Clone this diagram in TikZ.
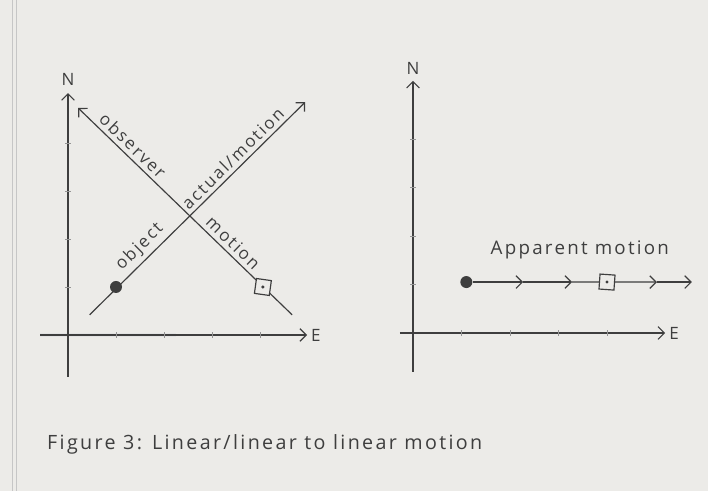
\documentclass[tikz,border=0pt]{standalone}
\usepackage{fontspec}
\setmainfont{Open Sans}[LetterSpace=12]
\usetikzlibrary{arrows.meta,positioning,calc}
\usepackage{xcolor}
\definecolor{paper}{RGB}{236,235,232}
\definecolor{pencil}{RGB}{62,62,62}

\tikzset{
  barb/.style={-{Straight Barb[length=1.9mm,width=3.8mm]}},
  pen/.style={pencil,line width=1pt},
  hand/.style={pencil,font=\fontsize{14.5}{17}\selectfont},
  tickmark/.style={pencil!55,thin},
  dot/.style={circle,fill=pencil,inner sep=0pt,minimum size=3.6mm},
  box/.style={draw=pencil,line width=1pt,fill=paper,minimum size=4.5mm,inner sep=0pt},
}

\begin{document}
\begin{tikzpicture}
\fill[paper] (0,0) rectangle (21.24,14.73);
\useasboundingbox (0,0) rectangle (21.24,14.73);
% page margin of the scan
\draw[gray!45,thin] (0.36,0) -- (0.36,14.73);
\draw[gray!45,thin] (0.48,0) -- (0.48,14.73);
\begin{scope}[shift={(2.04,4.68)},x=1.44cm,y=1.44cm]
  \draw[gray!22,line width=4pt] (-0.58,0) -- (2.25,0);
  \coordinate (lNs) at (0,-0.875);
  \coordinate (lNe) at (0,5.04);
  \coordinate (lEs) at (-0.58,0);
  \coordinate (lEe) at (4.98,0);
  \draw[pen,barb] (lNs) -- (lNe);
  \draw[pen,barb] (lEs) -- (lEe);
  \node[hand,above=3pt of lNe] (lN) {N};
  \node[hand,right=0pt of lEe] (lE) {E};
  \foreach \k in {1,...,4} {
    \draw[tickmark] (\k,-0.06) -- (\k,0.06);
    \draw[tickmark] (-0.06,\k) -- (0.06,\k);
  }
  % the object
  \coordinate (objS) at (0.45,0.42);
  \coordinate (objE) at (4.94,4.85);
  \draw[pen,barb] (objS) --
    node[hand,sloped,above,pos=0.275] (lobj) {object}
    node[hand,sloped,above,pos=0.70] (lact) {actual/motion} (objE);
  \node[dot] (obj) at (1,1) {};
  % the observer
  \coordinate (obsS) at (4.67,0.42);
  \coordinate (obsE) at (0.21,4.73);
  \draw[pen,barb] (obsS) --
    node[hand,sloped,above,pos=0.31] (lmot) {motion}
    node[hand,sloped,above,pos=0.78] (lobs) {observer} (obsE);
  \node[box,rotate=-8] (obs) at (4.06,1.0) {};
  \fill[pencil] (obs.center) circle (1.4pt);
\end{scope}
\begin{scope}[shift={(12.39,4.74)},x=1.455cm,y=1.455cm]
  \coordinate (rNs) at (0,-0.8);
  \coordinate (rNe) at (0,5.2);
  \coordinate (rEs) at (-0.27,0);
  \coordinate (rEe) at (5.2,0);
  \draw[pen,barb] (rNs) -- (rNe);
  \draw[pen,barb] (rEs) -- (rEe);
  \node[hand,above=2pt of rNe] (rN) {N};
  \node[hand,right=0pt of rEe] (rE) {E};
  \foreach \k in {1,...,4} {
    \draw[tickmark] (\k,-0.06) -- (\k,0.06);
    \draw[tickmark] (-0.06,\k) -- (0.06,\k);
  }
  \node[dot] (app) at (1.1,1.05) {};
  \coordinate (c1) at (2.27,1.05);
  \coordinate (c2) at (3.28,1.05);
  \node[box,rotate=-4] (abox) at (4.0,1.05) {};
  \fill[pencil] (abox.center) circle (1.4pt);
  \coordinate (c3) at (5.03,1.05);
  \coordinate (appE) at (5.75,1.05);
  \draw[pen,barb] (app) -- (c1);
  \draw[pen,barb] (c1) -- (c2);
  \draw[pen] (c2) -- (abox);
  \draw[pen,barb] (abox) -- (c3);
  \draw[pen,barb] (c3) -- (appE);
  \node[hand,font=\fontsize{16}{19}\selectfont] (lapp) at (3.44,1.71) {Apparent motion};
\end{scope}
\node[hand,anchor=base west,inner sep=0pt,font=\fontsize{16.8}{20}\selectfont] (cap) at (1.41,1.23)
  {Figure 3: Linear/linear to linear motion};
\end{tikzpicture}
\end{document}
